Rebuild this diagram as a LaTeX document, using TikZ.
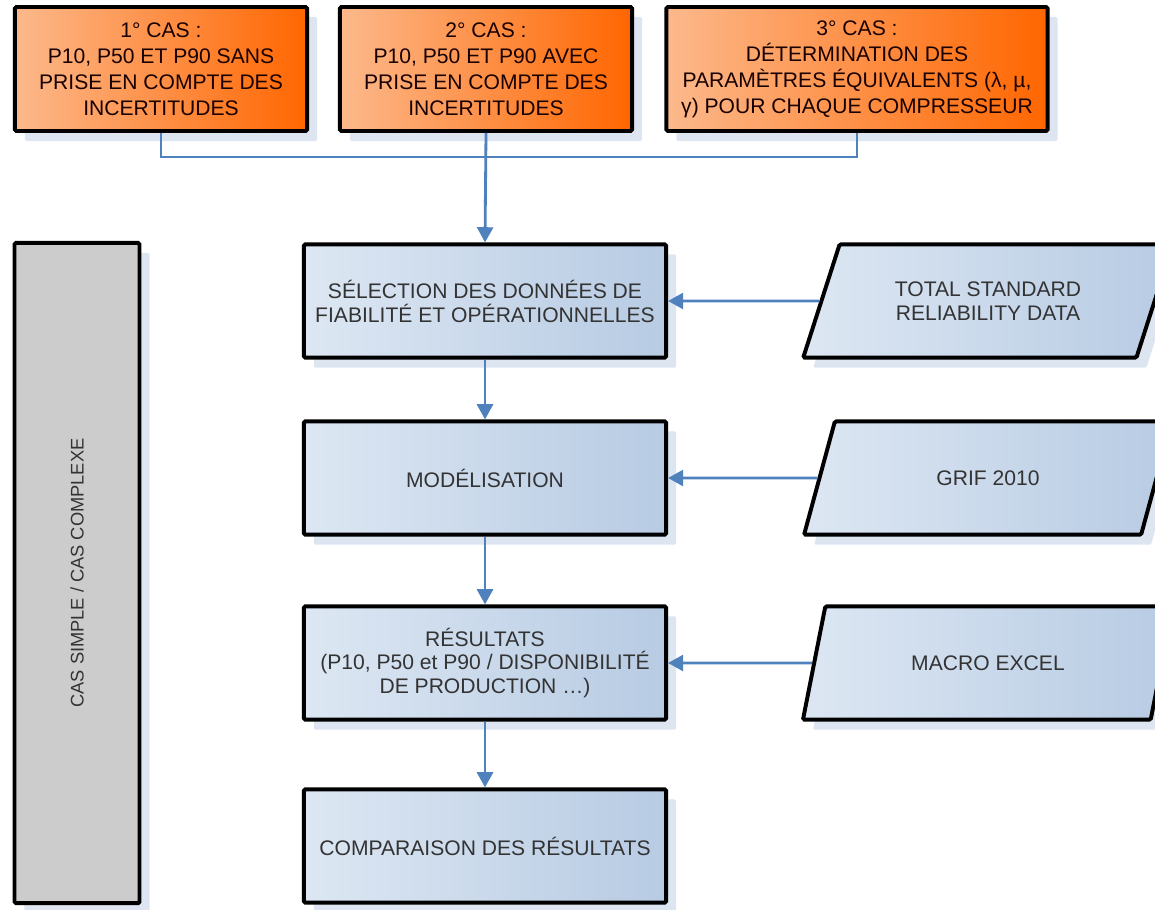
\documentclass[tikz,border=0pt]{standalone}
\usepackage{fontspec}
\setmainfont{Liberation Sans}
\usetikzlibrary{positioning,arrows.meta,shapes.geometric,shadows}
\definecolor{orlight}{HTML}{FCB98C}
\definecolor{ordark}{HTML}{FF6600}
\definecolor{bllight}{HTML}{DDE7F3}
\definecolor{bldark}{HTML}{B7CBE3}
\definecolor{shade}{HTML}{DCE5F0}
\definecolor{link}{HTML}{4F81BD}
\definecolor{ink}{HTML}{333333}
\definecolor{greybox}{HTML}{CCCCCC}

\begin{document}
\begin{tikzpicture}[x=0.025cm, y=-0.025cm,
  base/.style={draw=black, line width=2.8pt, rounded corners=1pt, align=center,
               text=ink, font=\fontsize{15}{17}\selectfont, inner sep=2pt,
               drop shadow={shadow xshift=2.5mm, shadow yshift=-2.5mm, fill=shade, opacity=1}},
  case/.style={base, left color=orlight, right color=ordark, text=black!90!red,
               font=\fontsize{15}{18.5}\selectfont, minimum width=7.3cm, minimum height=3.1cm},
  stage/.style={base, left color=bllight, right color=bldark,
                minimum width=9.05cm, minimum height=2.83cm},
  source/.style={stage, shape=trapezium, trapezium left angle=62, trapezium right angle=118,
                 trapezium stretches=true, minimum width=9.25cm},
  arr/.style={draw=link, line width=2pt, -{Triangle[length=3.8mm, width=4mm]}},
  branch/.style={draw=link, line width=1pt}]
\useasboundingbox (0,0) rectangle (1155,909);
\node[case] (c1) at (161,69) {1° CAS :\\P10, P50 ET P90 SANS\\PRISE EN COMPTE DES\\INCERTITUDES};
\node[case] (c2) at (486,69) {2° CAS :\\P10, P50 ET P90 AVEC\\PRISE EN COMPTE DES\\INCERTITUDES};
\node[case, minimum width=9.525cm] (c3) at (857,69)
  {3° CAS :\\DÉTERMINATION DES\\PARAMÈTRES ÉQUIVALENTS (λ, µ,\\γ) POUR CHAQUE COMPRESSEUR};
\node[base, fill=greybox, rotate=90, minimum width=16.5cm, minimum height=3.125cm,
      font=\fontsize{13}{16}\selectfont] (cas) at (77,573) {CAS SIMPLE / CAS COMPLEXE};
\node[stage] (sel) at (485,301) {SÉLECTION DES DONNÉES DE\\FIABILITÉ ET OPÉRATIONNELLES};
\node[stage] (mod) at (485,478) {MODÉLISATION};
\node[stage] (res) at (485,663) {RÉSULTATS\\(P10, P50 et P90 / DISPONIBILITÉ\\DE PRODUCTION …)};
\node[stage] (cmp) at (485,846) {COMPARAISON DES RÉSULTATS};
\node[source] (tsrd) at (988,301) {TOTAL STANDARD\\RELIABILITY DATA};
\node[source] (grif) at (988,478) {GRIF 2010};
\node[source] (xl) at (988,663) {MACRO EXCEL};
\coordinate (join) at (486,157);
\draw[branch] (c1.south) |- (join) -| (c3.south);
\draw[arr] (c2.south) -- (sel.north);
\draw[arr] (sel) -- (mod);
\draw[arr] (mod) -- (res);
\draw[arr] (res) -- (cmp);
\foreach \s/\t in {tsrd/sel, grif/mod, xl/res}
  \draw[arr] (\s.west) -- (\t.east);
\end{tikzpicture}
\end{document}
